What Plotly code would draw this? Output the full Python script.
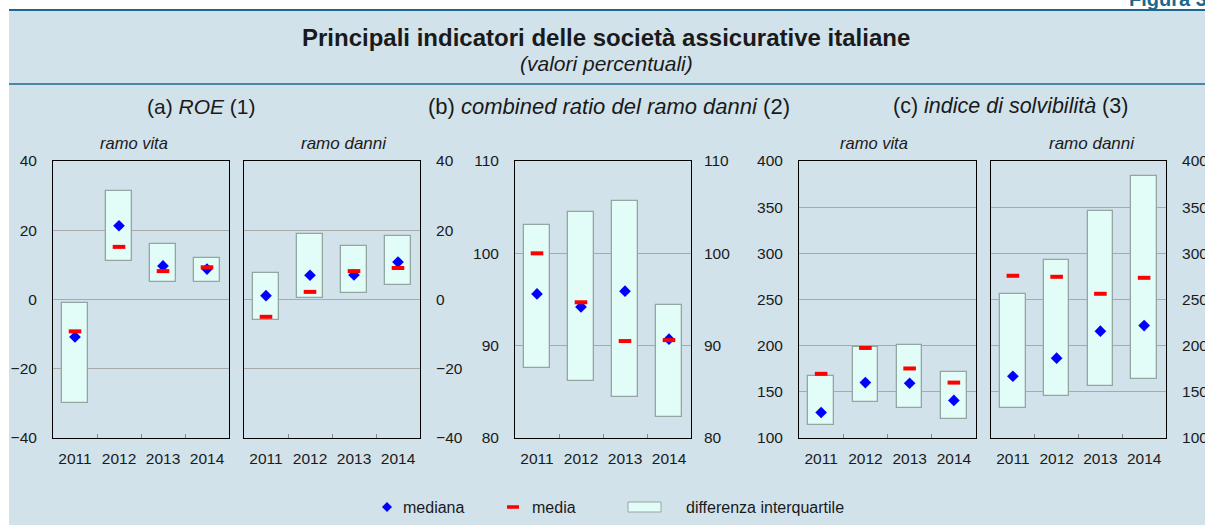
import plotly.graph_objects as go
import numpy as np

W, H = 1205, 525

years = ["2011", "2012", "2013", "2014"]

# (a) ROE - ramo vita
roe_vita_q1 = [-30.0, 11.1, 5.0, 5.0]
roe_vita_q3 = [-1.0, 31.2, 16.0, 12.0]
roe_vita_median = [-10.8, 21.3, 9.7, 8.8]
roe_vita_mean = [-9.2, 15.2, 8.2, 9.3]

# (a) ROE - ramo danni
roe_danni_q1 = [-5.9, 0.5, 1.8, 4.2]
roe_danni_q3 = [7.6, 18.8, 15.5, 18.2]
roe_danni_median = [1.1, 7.0, 7.1, 10.8]
roe_danni_mean = [-5.0, 2.2, 8.2, 9.1]

# (b) combined ratio del ramo danni
cr_q1 = [87.6, 86.2, 84.4, 82.3]
cr_q3 = [103.1, 104.5, 105.7, 94.4]
cr_median = [95.6, 94.2, 95.9, 90.7]
cr_mean = [100.0, 94.7, 90.5, 90.6]

# (c) indice di solvibilità - ramo vita
solv_vita_q1 = [114.2, 139.3, 132.7, 120.7]
solv_vita_q3 = [167.3, 198.5, 201.1, 171.6]
solv_vita_median = [127.6, 160.0, 159.3, 140.7]
solv_vita_mean = [169.5, 197.5, 175.3, 160.0]

# (c) indice di solvibilità - ramo danni
solv_danni_q1 = [132.2, 145.2, 156.1, 164.4]
solv_danni_q3 = [256.5, 292.3, 346.2, 383.4]
solv_danni_median = [166.9, 186.4, 215.7, 221.8]
solv_danni_mean = [275.7, 274.6, 256.2, 273.5]

roe_ticks = [-40, -20, 0, 20, 40]
cr_ticks = [80, 90, 100, 110]
solv_ticks = [100, 150, 200, 250, 300, 350, 400]

BG = "#d1e2eb"
BOX_FILL = "#e2fdf8"
BOX_LINE = "#94a6a2"
DARKLINE = "#1d6890"
FONT = "Liberation Sans, Arial, Helvetica, sans-serif"
TXT = "#1a1a1a"


def px(x):
    return x / W


def py(y):
    return 1 - y / H


panels = [
    dict(q1=roe_vita_q1, q3=roe_vita_q3, med=roe_vita_median, mean=roe_vita_mean,
         dom=(53, 229), rng=(-40, 40), ticks=roe_ticks, side="left"),
    dict(q1=roe_danni_q1, q3=roe_danni_q3, med=roe_danni_median, mean=roe_danni_mean,
         dom=(244, 420), rng=(-40, 40), ticks=roe_ticks, side="right"),
    dict(q1=cr_q1, q3=cr_q3, med=cr_median, mean=cr_mean,
         dom=(515, 691), rng=(80, 110), ticks=cr_ticks, side="both"),
    dict(q1=solv_vita_q1, q3=solv_vita_q3, med=solv_vita_median, mean=solv_vita_mean,
         dom=(799, 976), rng=(100, 400), ticks=solv_ticks, side="left"),
    dict(q1=solv_danni_q1, q3=solv_danni_q3, med=solv_danni_median, mean=solv_danni_mean,
         dom=(991, 1166), rng=(100, 400), ticks=solv_ticks, side="right"),
]

fig = go.Figure()
layout = {}
ydom = [py(438), py(161)]
TICKFONT = dict(size=15.5, color=TXT, family=FONT)

for i, p in enumerate(panels, start=1):
    xa = "x" if i == 1 else f"x{i}"
    ya = "y" if i == 1 else f"y{i}"
    q1 = np.array(p["q1"])
    q3 = np.array(p["q3"])
    fig.add_trace(go.Bar(x=years, y=q3 - q1, base=q1, width=0.58,
                         marker=dict(color=BOX_FILL, line=dict(color=BOX_LINE, width=1.3)),
                         xaxis=xa, yaxis=ya, showlegend=False, hoverinfo="skip"))
    fig.add_trace(go.Scatter(x=years, y=p["med"], mode="markers",
                             marker=dict(symbol="diamond", size=9, color="#0000ff",
                                         line=dict(width=0)),
                             xaxis=xa, yaxis=ya, showlegend=False))
    fig.add_trace(go.Scatter(x=years, y=p["mean"], mode="markers",
                             marker=dict(symbol="line-ew", size=9,
                                         line=dict(color="#ff0000", width=4)),
                             xaxis=xa, yaxis=ya, showlegend=False))
    layout[f"xaxis{'' if i == 1 else i}"] = dict(
        domain=[px(p["dom"][0]), px(p["dom"][1])], anchor=ya, type="category",
        range=[-0.5, 3.5], showline=True, linecolor="black", linewidth=1, mirror=True,
        ticks="inside", tickson="boundaries", ticklen=4, tickcolor="#888888",
        showgrid=False, tickfont=TICKFONT, automargin=False, tickangle=0,
        ticklabelstandoff=6, fixedrange=True)
    side = "right" if p["side"] == "right" else "left"
    layout[f"yaxis{'' if i == 1 else i}"] = dict(
        domain=ydom, anchor=xa, range=list(p["rng"]), tickvals=p["ticks"],
        side=side, showline=True, linecolor="black", linewidth=1, mirror=True,
        showgrid=True, gridcolor="#a9a9a9", gridwidth=1, zeroline=False,
        ticks="", tickfont=TICKFONT, automargin=False,
        ticklabelstandoff=12, fixedrange=True)

# right-hand labels for panel (b)
fig.add_trace(go.Scatter(x=years, y=cr_median, mode="markers", marker=dict(opacity=0),
                         xaxis="x3", yaxis="y6", showlegend=False, hoverinfo="skip"))
layout["yaxis6"] = dict(overlaying="y3", anchor="x3", side="right", range=[80, 110],
                        tickvals=cr_ticks, showgrid=False, zeroline=False, showline=False,
                        ticks="", tickfont=TICKFONT, automargin=False,
                        ticklabelstandoff=12, fixedrange=True)

shapes = [
    dict(type="rect", xref="paper", yref="paper", x0=px(9), x1=1, y0=0, y1=py(10),
         fillcolor=BG, line=dict(width=0), layer="below"),
    dict(type="line", xref="paper", yref="paper", x0=px(9), x1=1, y0=py(10), y1=py(10),
         line=dict(color=DARKLINE, width=2)),
    dict(type="line", xref="paper", yref="paper", x0=px(9), x1=1, y0=py(84), y1=py(84),
         line=dict(color=DARKLINE, width=1.5)),
]

# legend (drawn manually)
lx, ly = 387, 507
shapes.append(dict(type="path", xref="paper", yref="paper",
                   path=f"M {px(lx-5)},{py(ly)} L {px(lx)},{py(ly-5)} L {px(lx+5)},{py(ly)} L {px(lx)},{py(ly+5)} Z",
                   fillcolor="#0000ff", line=dict(width=0)))
shapes.append(dict(type="line", xref="paper", yref="paper", x0=px(507), x1=px(519),
                   y0=py(ly), y1=py(ly), line=dict(color="#ff0000", width=3.5)))
shapes.append(dict(type="rect", xref="paper", yref="paper", x0=px(628), x1=px(661),
                   y0=py(ly + 5), y1=py(ly - 5), fillcolor=BOX_FILL,
                   line=dict(color=BOX_LINE, width=1)))

ann = []


def text(x, y, s, size, anchor="center", yanchor="middle", color=TXT, bold=False):
    ann.append(dict(xref="paper", yref="paper", x=px(x), y=py(y), text=s, showarrow=False,
                    xanchor=anchor, yanchor=yanchor,
                    font=dict(size=size, color=color, family=FONT,
                              weight="bold" if bold else "normal")))


text(1127, -1, "Figura 3.1", 20, anchor="left", color=DARKLINE, bold=True)
text(606, 37, "Principali indicatori delle società assicurative italiane", 24, bold=True)
text(606, 63, "<i>(valori percentuali)</i>", 21)
text(202, 106, "(a) <i>ROE</i> (1)", 21)
text(609, 106, "(b) <i>combined ratio del ramo danni</i> (2)", 22)
text(1010, 106, "(c) <i>indice di solvibilità</i> (3)", 21.5)
text(134, 143, "<i>ramo vita</i>", 16.5)
text(344, 143, "<i>ramo danni</i>", 17)
text(874, 143, "<i>ramo vita</i>", 16.5)
text(1092, 143, "<i>ramo danni</i>", 17)
text(401, 507, "mediana", 16, anchor="left")
text(530, 507, "media", 16, anchor="left")
text(684, 507, "differenza interquartile", 16, anchor="left")

fig.update_layout(
    width=W, height=H, autosize=False,
    margin=dict(l=0, r=0, t=0, b=0, pad=0),
    paper_bgcolor="white", plot_bgcolor="white",
    font=dict(family=FONT, color=TXT),
    shapes=shapes, annotations=ann, showlegend=False, bargap=0,
    **layout,
)

fig.write_html(
    "out.html",
    config={"displayModeBar": False},
    post_script="document.body.style.margin='0px';document.body.style.overflow='hidden';",
)
